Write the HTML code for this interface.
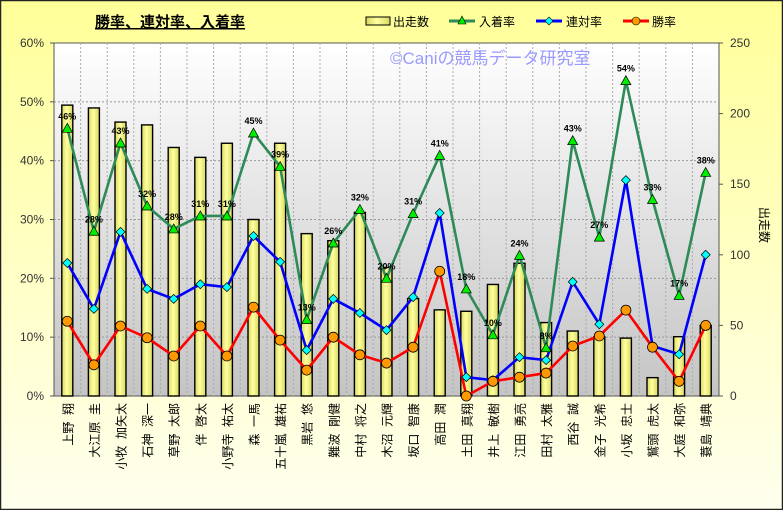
<!DOCTYPE html>
<html><head><meta charset="utf-8"><style>
body{margin:0;width:783px;height:510px;overflow:hidden;font-family:"Liberation Sans","Noto Sans CJK JP",sans-serif}
</style></head><body>
<svg id="s" width="783" height="510" xmlns="http://www.w3.org/2000/svg" font-family="Liberation Sans, Noto Sans CJK JP, sans-serif">
<defs>
<linearGradient id="bg" x1="0" y1="0" x2="0" y2="1"><stop offset="0" stop-color="#ffff99"/><stop offset="1" stop-color="#ffffee"/></linearGradient>
<linearGradient id="pa" x1="0" y1="0" x2="0" y2="1"><stop offset="0" stop-color="#ffffff"/><stop offset="1" stop-color="#c4c4c4"/></linearGradient>
<linearGradient id="bar" x1="0" y1="0" x2="1" y2="0"><stop offset="0" stop-color="#d8d860"/><stop offset="0.45" stop-color="#ffffa0"/><stop offset="1" stop-color="#d8d860"/></linearGradient>
</defs>
<rect x="0" y="0" width="783" height="510" fill="url(#bg)"/>
<rect x="0.5" y="0.5" width="782" height="509" fill="none" stroke="#222" stroke-width="1.5"/>
<rect x="54" y="43" width="665" height="353" fill="url(#pa)" stroke="#555" stroke-width="1"/>
<g id="g"></g>
<text x="95" y="27" font-size="15" font-weight="bold" fill="#000" text-decoration="underline">勝率、連対率、入着率</text>
<text x="390" y="64" font-size="17" fill="#9a9aff">©Caniの競馬データ研究室</text>
<g font-size="12" fill="#000">
<rect x="366" y="17" width="24" height="8" fill="url(#bar)" stroke="#000"/><text x="393" y="26">出走数</text>
<line x1="449" y1="21" x2="475" y2="21" stroke="#2e8b57" stroke-width="3"/><polygon points="462,16 466,24 458,24" fill="#00ee00" stroke="#000" stroke-width="0.6"/><text x="479" y="26">入着率</text>
<line x1="536" y1="21" x2="562" y2="21" stroke="#0000ff" stroke-width="3"/><polygon points="549,17 553,21 549,25 545,21" fill="#00ffff" stroke="#000" stroke-width="0.6"/><text x="566" y="26">連対率</text>
<line x1="623" y1="21" x2="649" y2="21" stroke="#ff0000" stroke-width="3"/><circle cx="636" cy="21" r="4" fill="#ff9900" stroke="#000" stroke-width="0.6"/><text x="652" y="26">勝率</text>
</g>
<text x="0" y="0" font-size="12" transform="translate(760,225) rotate(90)" text-anchor="middle">出走数</text>
</svg>
<script>
const N=["上野 翔","大江原 圭","小牧 加矢太","石神 深一","草野 太郎","伴 啓太","小野寺 祐太","森 一馬","五十嵐 雄祐","黒岩 悠","難波 剛健","中村 将之","木沼 元輝","坂口 智康","高田 潤","土田 真翔","井上 敏樹","江田 勇亮","田村 太雅","西谷 誠","金子 光希","小坂 忠士","鷲頭 虎太","大庭 和弥","蓑島 靖典"];
const B=[206,204,194,192,176,169,179,125,179,115,110,130,91,69,61,60,79,94,52,46,42,41,13,42,50];
const G=[45.5,28,43,32.3,28.4,30.6,30.6,44.7,39,13,26,31.7,20,31,40.9,18.2,10.4,23.9,8.2,43.4,27,53.6,33.4,17.1,38];
const L=[46,28,43,32,28,31,31,45,39,13,26,32,20,31,41,18,10,24,8,43,27,54,33,17,38];
const Bl=[22.6,14.8,27.9,18.2,16.5,19,18.5,27.2,22.8,7.8,16.5,14.1,11.2,16.8,31.1,3.2,2.7,6.6,6.1,19.4,12.2,36.7,8.5,7.1,24];
const R=[12.7,5.3,11.9,9.9,6.8,11.9,6.8,15.1,9.5,4.4,10,7,5.6,8.3,21.2,0,2.5,3.2,3.9,8.5,10.2,14.6,8.3,2.5,12];
const X0=54,W=665,T=43,Bt=396,H=353,n=25,cw=W/n;
const cx=i=>X0+cw*(i+.5), yp=v=>Bt-v/60*H, yb=v=>Bt-v/250*H;
let s='';
for(let k=1;k<6;k++){const y=Bt-k*H/6;s+=`<line x1="${X0}" y1="${y}" x2="${X0+W}" y2="${y}" stroke="#999" stroke-dasharray="2,2"/>`;}
for(let i=1;i<n;i++){const x=X0+i*cw;s+=`<line x1="${x}" y1="${T}" x2="${x}" y2="${Bt}" stroke="#aaa" stroke-dasharray="2,2"/>`;}
for(let k=0;k<=6;k++){const y=Bt-k*H/6;s+=`<text x="44" y="${y+4}" font-size="12" text-anchor="end" fill="#333">${k*10}%</text>`;s+=`<line x1="${X0-4}" y1="${y}" x2="${X0}" y2="${y}" stroke="#555"/>`;}
for(let k=0;k<=5;k++){const y=Bt-k*H/5;s+=`<text x="730" y="${y+4}" font-size="12" fill="#333">${k*50}</text>`;s+=`<line x1="${X0+W}" y1="${y}" x2="${X0+W+4}" y2="${y}" stroke="#555"/>`;}
B.forEach((v,i)=>{const y=yb(v);s+=`<rect x="${cx(i)-5.5}" y="${y}" width="11" height="${Bt-y}" fill="url(#bar)" stroke="#000" stroke-width="1.4"/>`;});
const line=(a,c)=>`<polyline points="${a.map((v,i)=>cx(i)+','+yp(v)).join(' ')}" fill="none" stroke="${c}" stroke-width="2.6"/>`;
s+=line(G,'#2e8b57');s+=line(Bl,'#0000ff');s+=line(R,'#ff0000');
G.forEach((v,i)=>{const x=cx(i),y=yp(v);s+=`<polygon points="${x},${y-5} ${x+5},${y+4} ${x-5},${y+4}" fill="#00ee00" stroke="#000" stroke-width="0.7"/>`;s+=`<text x="${x}" y="${y-9}" font-size="9" font-weight="bold" text-anchor="middle">${L[i]}%</text>`;});
Bl.forEach((v,i)=>{const x=cx(i),y=yp(v);s+=`<polygon points="${x},${y-4.5} ${x+4.5},${y} ${x},${y+4.5} ${x-4.5},${y}" fill="#00ffff" stroke="#000" stroke-width="0.7"/>`;});
R.forEach((v,i)=>{s+=`<circle cx="${cx(i)}" cy="${yp(v)}" r="5" fill="#ff9900" stroke="#000" stroke-width="0.8"/>`;});
N.forEach((t,i)=>{s+=`<text x="0" y="0" font-size="12" fill="#000" text-anchor="end" xml:space="preserve" transform="translate(${cx(i)+5},403) rotate(-90)">${t.replace(' ','  ')}</text>`;});
document.getElementById('g').innerHTML=s;
</script>
</body></html>
